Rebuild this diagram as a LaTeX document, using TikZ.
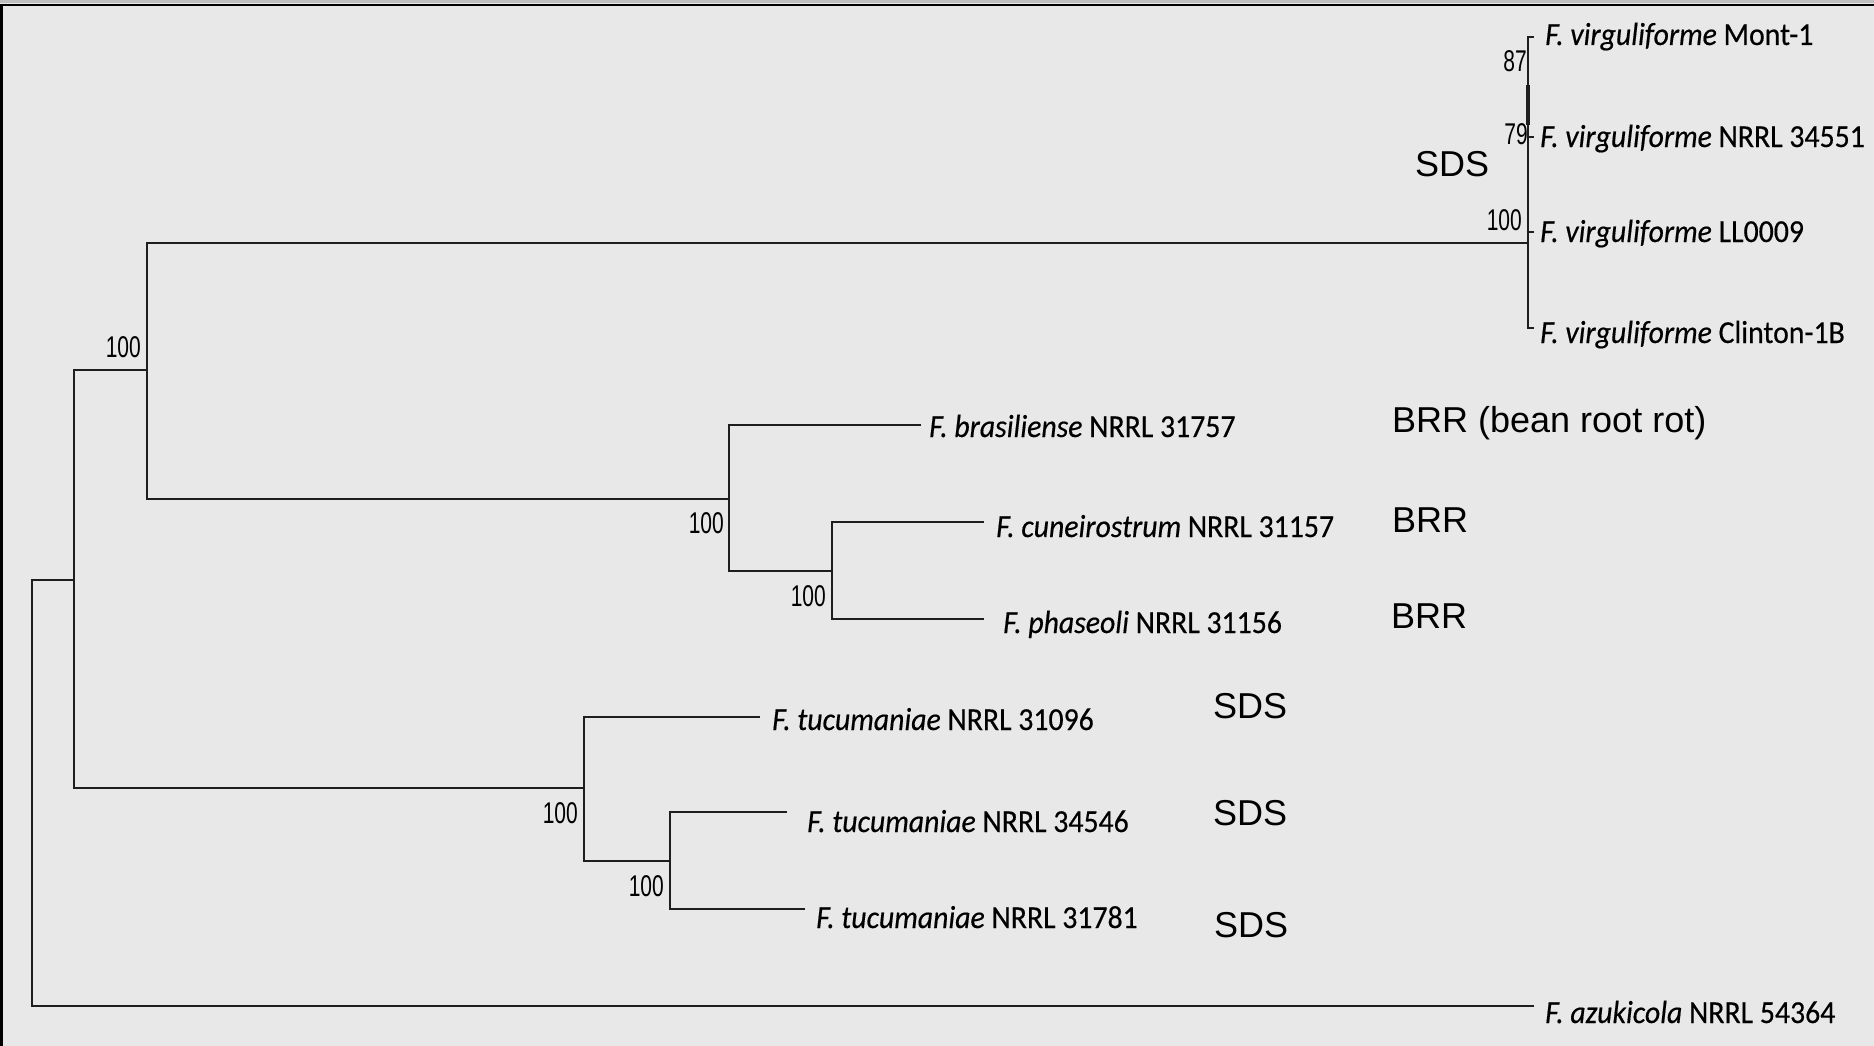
\documentclass[tikz,border=0pt]{standalone}
\usepackage{fontspec}
\setmainfont{Carlito}
\newfontfamily\tipfont[FakeStretch=0.93,FakeBold=0.4]{Carlito}
\newfontfamily\bootfont[FakeStretch=0.7]{Liberation Sans}
\newfontfamily\disfont{Liberation Sans}
\definecolor{bg}{RGB}{232,232,232}
\definecolor{ln}{RGB}{30,30,30}
\begin{document}
\begin{tikzpicture}[x=1pt,y=-1pt,
  branch/.style={draw=ln,line width=1.7pt,line cap=rect},
  tip/.style={anchor=base west,inner sep=0pt,font=\tipfont\fontsize{32}{37}\selectfont},
  boot/.style={anchor=base east,inner sep=0pt,font=\bootfont\fontsize{30}{35}\selectfont},
  dis/.style={anchor=base west,inner sep=0pt,font=\disfont\fontsize{36}{42}\selectfont}]
\useasboundingbox (0,0) rectangle (1874,1046);
\fill[bg] (0,0) rectangle (1874,1046);
\fill[black!25] (0,0) rectangle (1874,3.5);
\draw[black,line width=2.5pt] (0,5) -- (1874,5);
\draw[black,line width=3pt] (1,5) -- (1,1046);

% internal nodes (at the point where the parent branch joins)
\coordinate (nR) at (32,793);
\coordinate (nA) at (74,580);
\coordinate (nB) at (147,370);
\coordinate (nV) at (1528,243);
\coordinate (nC) at (729,499);
\coordinate (nD) at (832,571);
\coordinate (nE) at (584,788);
\coordinate (nF) at (670,861);
% leaves (branch ends)
\coordinate (lMont) at (1533,37);
\coordinate (lN) at (1533,137);
\coordinate (lLL) at (1533,232);
\coordinate (lClin) at (1533,328);
\coordinate (lBras) at (920,425);
\coordinate (lCun) at (983,522);
\coordinate (lPha) at (983,619);
\coordinate (lT1) at (759,717);
\coordinate (lT2) at (786,812);
\coordinate (lT3) at (804,909);
\coordinate (lAzu) at (1533,1006);

% branches
\draw[branch] (nA) -| (nR) |- (lAzu);
\draw[branch] (nA) |- (nB);
\draw[branch] (nA) |- (nE);
\draw[branch] (nB) |- (nV);
\draw[branch] (nB) |- (nC);
\draw[branch] (nV) |- (lMont);
\draw[branch] (nV) |- (lN);
\draw[branch] (nV) |- (lLL);
\draw[branch] (nV) |- (lClin);
\draw[draw=ln,line width=3.2pt] (1528,85) -- (1528,125);
\draw[branch] (nC) |- (lBras);
\draw[branch] (nC) |- (nD);
\draw[branch] (nD) |- (lCun);
\draw[branch] (nD) |- (lPha);
\draw[branch] (nE) |- (lT1);
\draw[branch] (nE) |- (nF);
\draw[branch] (nF) |- (lT2);
\draw[branch] (nF) |- (lT3);

% tip labels
\node[tip] (tMont) at (1545,45) {\itshape F. virguliforme\/ \upshape Mont-1};
\node[tip] (tN) at (1540,147) {\itshape F. virguliforme\/ \upshape NRRL 34551};
\node[tip] (tLL) at (1540,242) {\itshape F. virguliforme\/ \upshape LL0009};
\node[tip] (tClin) at (1540,343) {\itshape F. virguliforme\/ \upshape Clinton-1B};
\node[tip] (tBras) at (929,437) {\itshape F. brasiliense\/ \upshape NRRL 31757};
\node[tip] (tCun) at (996,537) {\itshape F. cuneirostrum\/ \upshape NRRL 31157};
\node[tip] (tPha) at (1003,633) {\itshape F. phaseoli\/ \upshape NRRL 31156};
\node[tip] (tT1) at (772,730) {\itshape F. tucumaniae\/ \upshape NRRL 31096};
\node[tip] (tT2) at (807,832) {\itshape F. tucumaniae\/ \upshape NRRL 34546};
\node[tip] (tT3) at (816,928) {\itshape F. tucumaniae\/ \upshape NRRL 31781};
\node[tip] (tAzu) at (1545,1023) {\itshape F. azukicola\/ \upshape NRRL 54364};

% bootstrap values
\node[boot] (bB) at (141,357) {100};
\node[boot] (bC) at (724,533) {100};
\node[boot] (bD) at (826,606) {100};
\node[boot] (bE) at (578,823) {100};
\node[boot] (bF) at (664,896) {100};
\node[boot] (b87) at (1527,72) {87};
\node[boot] (b79) at (1528,145) {79};
\node[boot] (bV) at (1522,230) {100};

% disease labels
\node[dis] (dSDS0) at (1415,176) {SDS};
\node[dis] (dBRR1) at (1392,432) {BRR (bean root rot)};
\node[dis] (dBRR2) at (1392,532) {BRR};
\node[dis] (dBRR3) at (1391,628) {BRR};
\node[dis] (dSDS1) at (1213,718) {SDS};
\node[dis] (dSDS2) at (1213,825) {SDS};
\node[dis] (dSDS3) at (1214,937) {SDS};
\end{tikzpicture}
\end{document}
